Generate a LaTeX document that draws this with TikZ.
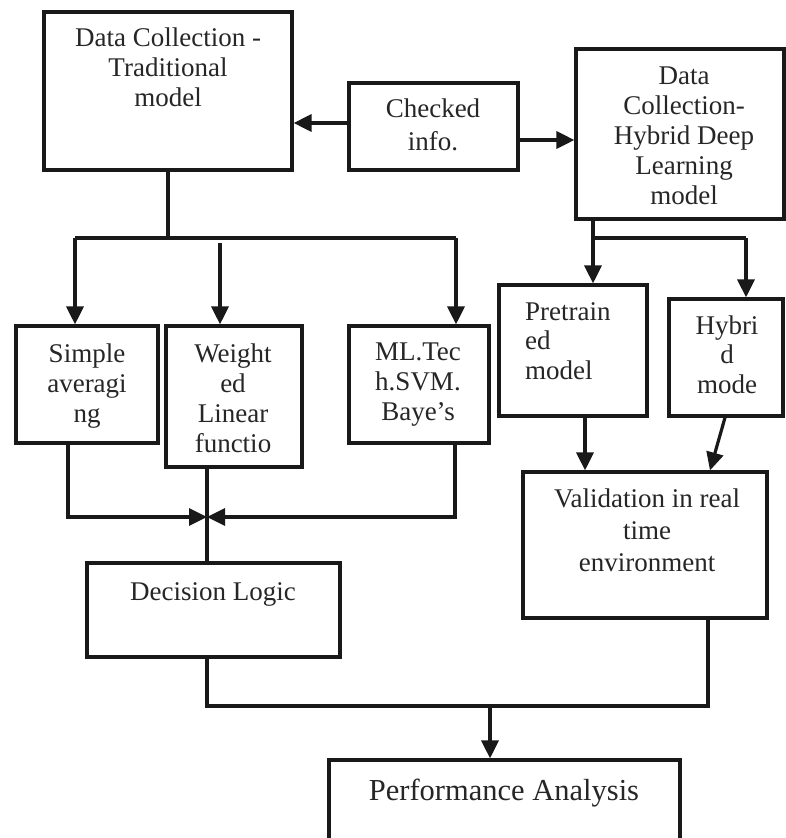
\documentclass[tikz,border=0pt]{standalone}
\usepackage{fontspec}
\setmainfont{Liberation Serif}
\usetikzlibrary{arrows.meta}

\tikzset{
  box/.style={draw=black!90, line width=3.2pt, inner sep=0pt, fill=white},
  lbl/.style={inner sep=0pt, align=center, anchor=base, text=black!85,
              font=\fontsize{27}{30}\selectfont},
  wire/.style={line width=3.2pt, draw=black!90},
  arr/.style={wire, -{Triangle[length=18pt, width=17pt]}},
}

\begin{document}
\begin{tikzpicture}[x=1pt, y=-1pt]
  \useasboundingbox (0,0) rectangle (786,838);
  \clip (0,0) rectangle (786,838);
  \fill[white] (0,0) rectangle (786,838);

  % boxes
  \node[box, minimum width=248pt, minimum height=158pt] (trad)     at (168,91)    {};
  \node[box, minimum width=169pt, minimum height=87pt]  (checked)  at (433.5,126.5) {};
  \node[box, minimum width=208pt, minimum height=170pt] (hdl)      at (680,134)   {};
  \node[box, minimum width=142pt, minimum height=117pt] (simple)   at (87,384.5)  {};
  \node[box, minimum width=136pt, minimum height=141pt] (weighted) at (234,396.5) {};
  \node[box, minimum width=140pt, minimum height=117pt] (ml)       at (419,384.5) {};
  \node[box, minimum width=148pt, minimum height=131pt] (pre)      at (573,350.5) {};
  \node[box, minimum width=114pt, minimum height=117pt] (hmode)    at (726,357.5) {};
  \node[box, minimum width=244pt, minimum height=146pt] (valid)    at (645,545)   {};
  \node[box, minimum width=253pt, minimum height=94pt]  (dec)      at (213.5,610) {};
  \node[box, minimum width=351pt, minimum height=90pt]  (perf)     at (504.5,805) {};

  % box texts (each placed by the baseline of its last line)
  \node[lbl] (tradtxt)    at (168,106) {Data Collection -\\Traditional\\model};
  \node[lbl, font=\fontsize{27}{33}\selectfont] (checkedtxt) at (433,150) {Checked\\info.};
  \node[lbl] (hdltxt)     at (684,204) {Data\\Collection-\\Hybrid Deep\\Learning\\model};
  \node[lbl] (simpletxt)  at (87,422)  {Simple\\averagi\\ng};
  \node[lbl] (weightedtxt) at (233,452) {Weight\\ed\\Linear\\functio};
  \node[lbl] (mltxt)      at (418,420) {ML.Tec\\h.SVM.\\Baye’s};
  \node[lbl, align=left, anchor=base west, font=\fontsize{27}{29.5}\selectfont] (pretxt) at (525,379) {Pretrain\\ed\\model};
  \node[lbl, font=\fontsize{27}{29.5}\selectfont] (hmodetxt) at (727,393) {Hybri\\d\\mode};
  \node[lbl, font=\fontsize{27}{32}\selectfont] (validtxt) at (647,571) {Validation in real\\time\\environment};
  \node[lbl] (dectxt)     at (213,600) {Decision Logic};
  \node[lbl, font=\fontsize{30.5}{34}\selectfont] (perftxt) at (504,800) {Performance Analysis};

  % junction points
  \coordinate (c1) at (349,123);
  \coordinate (c2) at (518,140);
  \coordinate (bL) at (75,238);
  \coordinate (bW) at (220,243);
  \coordinate (bR) at (456,238);
  \coordinate (hb) at (593,238);
  \coordinate (hr) at (746,238);
  \coordinate (j)  at (207,517);
  \coordinate (k)  at (490,706);

  % checked info feeds both collections
  \draw[arr] (c1) -- (trad.east |- c1);
  \draw[arr] (c2) -- (hdl.west |- c2);

  % traditional branch
  \draw[wire] (trad.south) -- (trad.south |- bL);
  \draw[wire] (bL) -- (bR);
  \draw[arr] (bL) -- (bL |- simple.north);
  \draw[arr] (bW) -- (bW |- weighted.north);
  \draw[arr] (bR) -- (bR |- ml.north);

  % hybrid branch
  \draw[arr] (hdl.south -| hb) -- (hb |- pre.north);
  \draw[wire] (hb) -- (hr);
  \draw[arr] (hr) -- (hr |- hmode.north);
  \draw[arr] ([xshift=12pt]pre.south) -- ([xshift=12pt]pre.south |- valid.north);
  \draw[arr] ([xshift=-1pt]hmode.south) -- ([xshift=65pt]valid.north);

  % combination into decision logic
  \draw[arr] ([xshift=-19pt]simple.south) |- (j);
  \draw[arr] ([xshift=36pt]ml.south) |- (j);
  \draw[wire] (weighted.south -| j) -- (dec.north -| j);

  % results to performance analysis
  \draw[wire] (dec.south -| j) |- (k) -| ([xshift=63pt]valid.south);
  \draw[arr] (k) -- (k |- perf.north);
\end{tikzpicture}
\end{document}
